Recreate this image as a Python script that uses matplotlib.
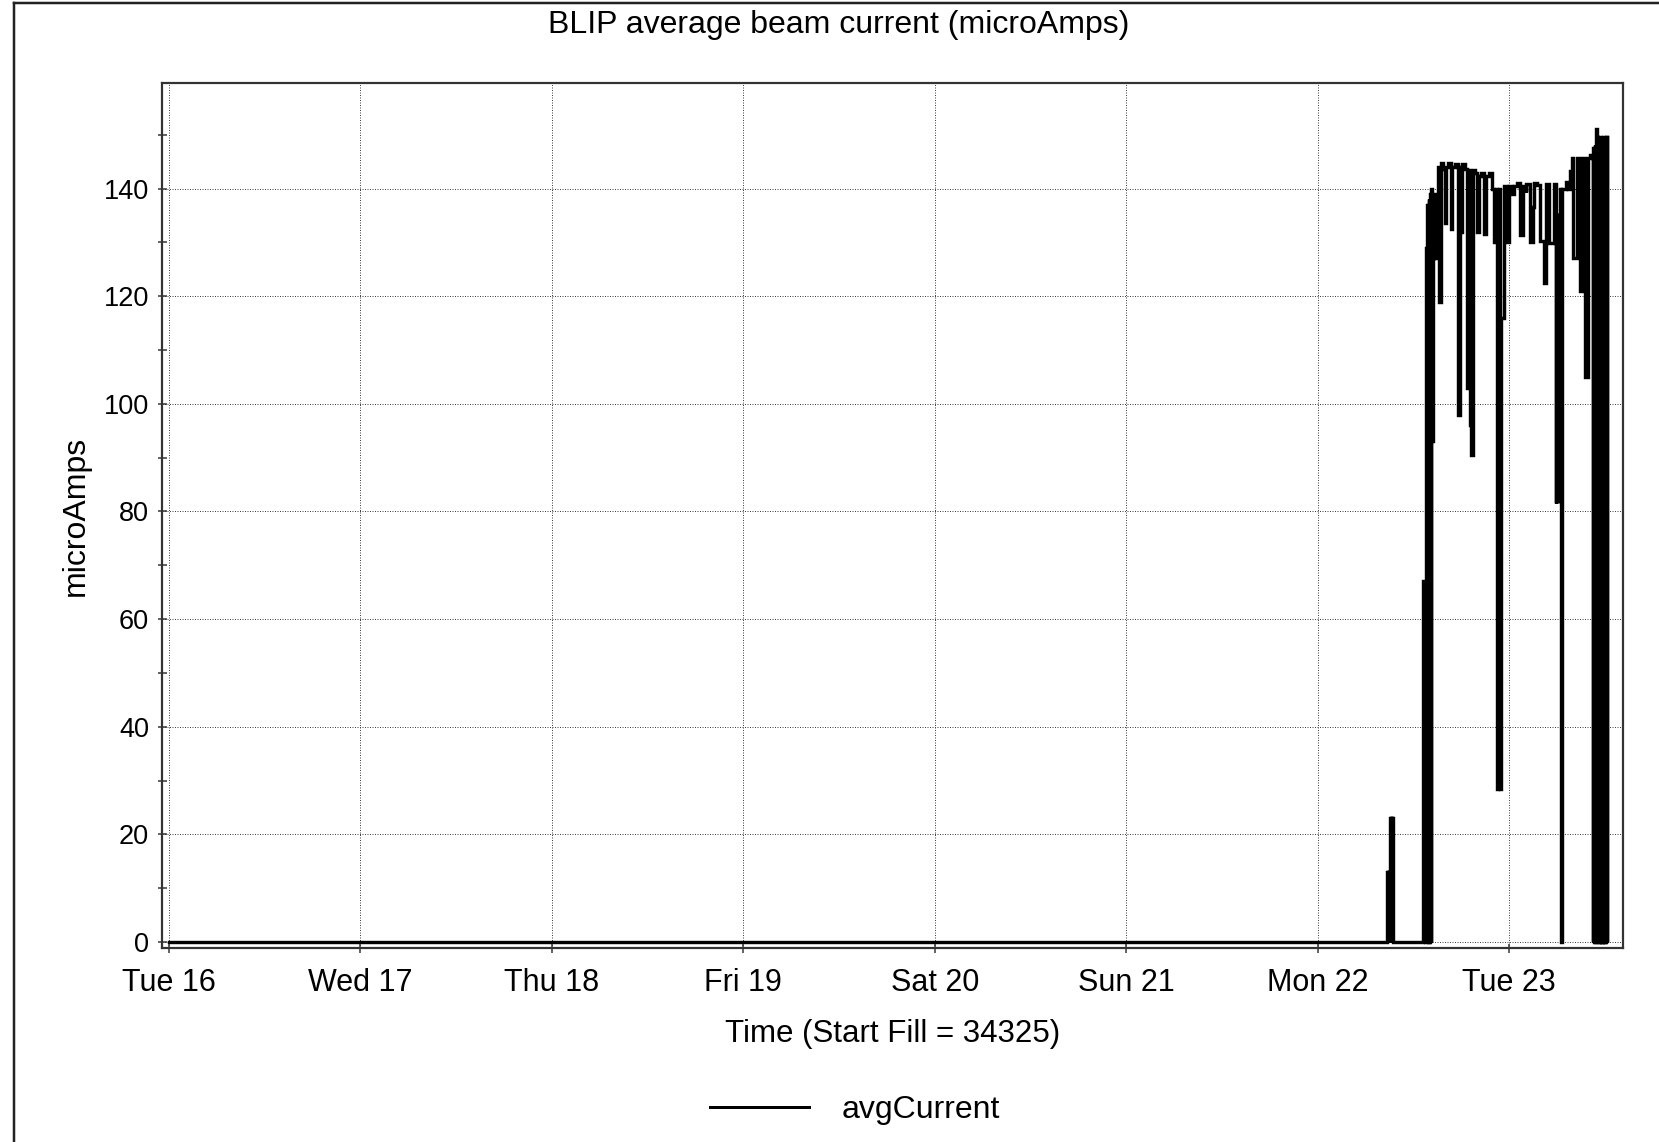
import matplotlib
matplotlib.use("Agg")
import matplotlib.pyplot as plt
from matplotlib.lines import Line2D
from matplotlib.ticker import FixedLocator, MultipleLocator
import numpy as np

plt.rcParams['font.family'] = ['Liberation Sans', 'DejaVu Sans']

# ---- data (hours since Tue 16 00:00, microAmps) ----
hours = [0.00, 152.65, 152.75, 152.80, 152.90, 152.95, 153.06, 153.15, 153.20, 153.30,
         153.33, 153.40, 157.23,
         157.50, 157.58, 157.66, 157.74, 157.82, 157.90, 157.98, 158.06, 158.14, 158.22,
         158.30, 158.48, 158.62, 158.82, 158.97, 159.07, 159.25, 159.45, 159.70, 159.95,
         160.10, 160.35, 160.70, 160.85, 161.20, 161.62, 161.78, 161.95, 162.10, 162.40,
         162.67, 162.82, 163.08, 163.25, 163.42, 163.70, 163.95, 164.20, 164.50, 164.80,
         165.05, 165.40, 165.84, 166.10, 166.30, 166.43, 166.55,
         166.62, 166.74, 166.80, 166.92, 167.35, 167.70, 168.00, 168.40, 168.55, 169.00,
         169.40, 169.70, 170.05, 170.15, 170.65, 170.95, 171.10, 171.50, 171.90, 172.30,
         172.65, 173.00, 173.55, 173.82, 173.92, 173.98, 174.08, 174.14, 174.24, 174.30,
         174.40, 174.48, 174.60, 175.10, 175.30, 175.65, 175.85, 176.05, 176.45, 176.85,
         177.25, 177.55, 177.90, 178.15, 178.45, 178.55, 178.62, 178.72, 178.80, 178.87,
         178.95, 179.05, 179.12, 179.22, 179.30, 179.40, 179.48, 179.58, 179.66, 179.76,
         179.84, 179.94, 180.02, 180.12, 180.20, 180.30]
avg_current = [0, 13, 0, 13, 0, 13, 23, 0, 23, 0,
               23, 0, 67,
               0, 129, 0, 137, 0, 138, 0, 139, 0, 140,
               93, 127, 139, 127, 137, 144, 119, 144.8, 143.6, 133.5,
               144, 144.8, 132.5, 144, 144.6, 98, 144, 132, 144.5, 143.6,
               103, 143.5, 96, 90.5, 143.5, 142.8, 132, 142.3, 142.9, 131.5,
               142.3, 142.8, 140, 130, 140, 28.5, 140,
               29, 140, 28.5, 116, 140.5, 130, 140.5, 139, 140.5, 141,
               131.3, 140.5, 139.3, 140.8, 130, 136.5, 141, 140.6, 130.3, 122.5,
               140.8, 129.8, 140.8, 81.5, 135, 82, 135, 82, 135, 82,
               140, 0, 140, 141.3, 140, 143.2, 145.6, 127, 145.6, 121,
               145.6, 105, 145.6, 146.2, 0, 147.5, 0, 148, 0, 151,
               0, 149.5, 0, 149.5, 0, 149.5, 0, 149.5, 0, 149.5,
               0, 149.5, 0, 149.5, 0, 149.5]

day_ticks = [0, 1, 2, 3, 4, 5, 6, 7]
day_labels = ["Tue 16", "Wed 17", "Thu 18", "Fri 19", "Sat 20", "Sun 21", "Mon 22", "Tue 23"]
y_ticks = [0, 20, 40, 60, 80, 100, 120, 140]

title = "BLIP average beam current (microAmps)"
xlabel = "Time (Start Fill = 34325)"
ylabel = "microAmps"
series_name = "avgCurrent"

# ---- figure ----
W, H = 1659, 1142
fig = plt.figure(figsize=(W / 100, H / 100), dpi=100)
L, R, T, B = 162, 1623, 83, 948
ax = fig.add_axes([L / W, 1 - B / H, (R - L) / W, (B - T) / H])

days = np.array(hours) / 24.0
px = 72 / 100.0
ax.plot(days, avg_current, drawstyle='steps-post', color='black',
        lw=3.4 * px, solid_joinstyle='miter', label=series_name, zorder=3)

ax.set_xlim(-0.036, 7.594)
ax.set_ylim(-1.1, 159.6)

ax.xaxis.set_major_locator(FixedLocator(day_ticks))
ax.set_xticklabels(day_labels)
ax.yaxis.set_major_locator(FixedLocator(y_ticks))
ax.yaxis.set_minor_locator(MultipleLocator(10))

ax.grid(True, which='major', color='#444444', linestyle=(0, (1, 1.5)), lw=1.0 * px, zorder=1)
ax.tick_params(axis='both', which='both', direction='inout', length=9 * px,
               width=1.5 * px, color='#333333')
ax.tick_params(axis='x', pad=11, labelsize=22)
ax.tick_params(axis='y', pad=6, labelsize=19.5)
ax.tick_params(axis='y', which='minor', length=9 * px)
ax.tick_params(axis='y', right=False)
ax.tick_params(axis='x', top=False)

for s in ax.spines.values():
    s.set_color('#333333')
    s.set_linewidth(2.2 * px)

ax.set_xlabel(xlabel, fontsize=22.5, labelpad=15)
ax.set_ylabel(ylabel, fontsize=23, labelpad=9)

fig.text(839 / W, 1 - 25 / H, title, ha='center', va='center', fontsize=23)

handle = Line2D([0], [0], color='black', lw=3 * px)
fig.legend([handle], [series_name], loc='center', bbox_to_anchor=(855 / W, 1 - 1110 / H),
           frameon=False, fontsize=23, handlelength=3.1, handletextpad=1.05)

# outer window border (left and top edges)
fig.add_artist(Line2D([14 / W, 14 / W], [0, 1 - 3 / H], transform=fig.transFigure,
                      color='#222222', lw=2.5 * px))
fig.add_artist(Line2D([14 / W, 1], [1 - 3 / H, 1 - 3 / H], transform=fig.transFigure,
                      color='#222222', lw=2.5 * px))

fig.savefig("out.png", dpi=100, facecolor='white')
